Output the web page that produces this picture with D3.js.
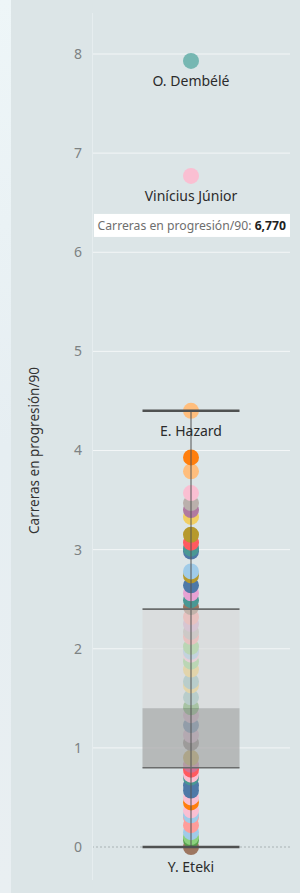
<!DOCTYPE html>
<html><head><meta charset="utf-8">
<script src="https://cdn.jsdelivr.net/npm/d3@7"></script>
<style>
html,body{margin:0;padding:0;background:#dce5e7;}
svg{display:block;}
</style></head>
<body><svg id="c" width="300" height="893"></svg>
<script>
// ---- data ----
const yTicks = [0,1,2,3,4,5,6,7,8];
const values = [7.93,6.77,4.40,3.93,3.79,3.57,3.47,3.40,3.33,3.15,3.07,3.01,2.98,2.78,2.74,2.64,2.56,2.49,2.42,
  2.32,2.25,2.17,2.12,2.02,1.97,1.94,1.87,1.79,1.67,1.63,1.51,1.41,1.33,1.23,1.13,1.05,0.90,0.83,0.78,0.73,0.70,
  0.62,0.57,0.50,0.45,0.37,0.32,0.30,0.22,0.15,0.10,0.07,0.00];
const colorKeys = ["#76b7b2","#fabfd2","#ffbe7d","#ff7f0e","#ffbe7d","#fabfd2","#bab0ac","#b07aa1","#f1ce63","#b6992d","#ff5a5f","#499894","#4e79a7","#a0cbe8","#b6992d","#4e79a7","#e7a2d3","#499894","#9d7660",
  "#ff9d9a","#d4a6c8","#bab0ac","#ff9d9a","#8cd17d","#a0cbe8","#fabfd2","#8cd17d","#f1ce63","#86bcb6","#f1ce63","#86bcb6","#59a14f","#d4a6c8","#4e79a7","#d4a6c8","#79706e","#b6992d","#d37295","#ff5a5f","#fabfd2","#499894",
  "#4e79a7","#4e79a7","#fabfd2","#ff7f0e","#fabfd2","#a0cbe8","#ff9d9a","#ff9d9a","#a0cbe8","#8cd17d","#59a14f","#9d7660"];
const labeledNames = ["O. Dembélé","Vinícius Júnior","E. Hazard","Y. Eteki"];
const labeledValues = [7.93,6.77,4.40,0.00];
const boxStats = {whiskerLow:0.00, q1:0.80, median:1.40, q3:2.40, whiskerHigh:4.40};
const axisTitle = "Carreras en progresión/90";
const tooltipLabel = "Carreras en progresión/90: ";
const tooltipValue = "6,770";

// ---- drawing ----
const svg = d3.select("#c");
const font = "'Noto Sans', sans-serif";
const y = d3.scaleLinear().domain([0,8]).range([847,54]);
const x = d3.scaleBand().domain(["all"]).range([92,290]);
const cx = x("all") + x.bandwidth()/2;

// backgrounds
const defs = svg.append("defs");
const g1 = defs.append("linearGradient").attr("id","lg").attr("x1",0).attr("x2",0).attr("y1",0).attr("y2",1);
g1.append("stop").attr("offset","0").attr("stop-color","#eef6f8");
g1.append("stop").attr("offset","0.5").attr("stop-color","#e6eef2");
g1.append("stop").attr("offset","1").attr("stop-color","#e9eff2");
svg.append("rect").attr("x",0).attr("y",0).attr("width",300).attr("height",893).attr("fill","#dce5e7");
svg.append("rect").attr("x",0).attr("y",0).attr("width",11).attr("height",893).attr("fill","url(#lg)");

// gridlines
svg.append("g").selectAll("line").data(yTicks.filter(d=>d>0)).join("line")
  .attr("x1",92).attr("x2",290).attr("y1",d=>y(d)).attr("y2",d=>y(d))
  .attr("stroke","#f3f6f7").attr("stroke-width",1);
svg.append("line").attr("x1",92).attr("x2",290).attr("y1",y(0)).attr("y2",y(0))
  .attr("stroke","#a9b2b4").attr("stroke-width",1).attr("stroke-dasharray","2,2");
svg.append("line").attr("x1",92.5).attr("x2",92.5).attr("y1",13).attr("y2",880)
  .attr("stroke","#e6edef").attr("stroke-width",1);

// axis
const ax = svg.append("g").attr("transform","translate(92,0)")
  .call(d3.axisLeft(y).tickValues(yTicks).tickSize(0).tickPadding(10).tickFormat(d3.format("d")));
ax.select(".domain").remove();
ax.selectAll("text").attr("font-family",font).attr("font-size",14).attr("fill","#7d8283");

svg.append("text").attr("transform",`translate(39,${y(4)}) rotate(-90)`)
  .attr("text-anchor","middle").attr("font-family",font).attr("font-size",13.5).attr("fill","#333")
  .text(axisTitle);

// dots
const pts = values.map((v,i)=>({v,c:colorKeys[i]}));
svg.append("g").selectAll("circle").data(pts.slice().reverse()).join("circle")
  .attr("cx",cx).attr("cy",d=>y(d.v)).attr("r",8).attr("fill",d=>d.c);

// box
const bw = 97;
svg.append("rect").attr("x",cx-bw/2).attr("width",bw).attr("y",y(boxStats.q3)).attr("height",y(boxStats.median)-y(boxStats.q3))
  .attr("fill","#d8d9d9").attr("fill-opacity",0.62);
svg.append("rect").attr("x",cx-bw/2).attr("width",bw).attr("y",y(boxStats.median)).attr("height",y(boxStats.q1)-y(boxStats.median))
  .attr("fill","#a9aaaa").attr("fill-opacity",0.75);
// whisker line
svg.append("line").attr("x1",cx).attr("x2",cx).attr("y1",y(boxStats.whiskerHigh)).attr("y2",y(boxStats.whiskerLow))
  .attr("stroke","#555").attr("stroke-width",1);
// caps and box edges
[boxStats.whiskerHigh, boxStats.q3, boxStats.q1, boxStats.whiskerLow].forEach((v,i)=>{
  svg.append("line").attr("x1",cx-bw/2).attr("x2",cx+bw/2).attr("y1",y(v)).attr("y2",y(v))
    .attr("stroke", i===0||i===3 ? "#4f5151" : "#6a6c6c").attr("stroke-width", i===0||i===3 ? 2.5 : 1.6);
});

// labels
svg.append("g").selectAll("text").data(labeledNames.map((n,i)=>({n,v:labeledValues[i]}))).join("text")
  .attr("x",cx).attr("y",d=>y(d.v)+25).attr("text-anchor","middle")
  .attr("font-family",font).attr("font-size",14).attr("fill","#2b2b2b").text(d=>d.n);

// tooltip
const ty = y(6.77) + 38;
svg.append("rect").attr("x",94).attr("y",ty).attr("width",196).attr("height",23).attr("fill","#ffffff");
const tt = svg.append("text").attr("x",286).attr("y",ty+16).attr("text-anchor","end")
  .attr("font-family",font).attr("font-size",12.2);
tt.append("tspan").attr("fill","#6e6e6e").text(tooltipLabel);
tt.append("tspan").attr("fill","#222").attr("font-weight","bold").text(tooltipValue);
</script></body></html>
